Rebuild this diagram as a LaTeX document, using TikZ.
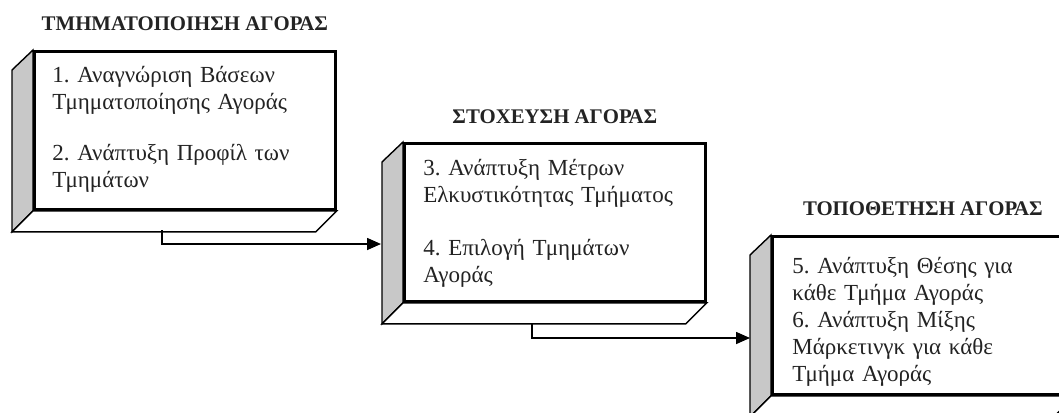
\documentclass[tikz,border=0pt]{standalone}
\usepackage{fontspec}
\setmainfont{Liberation Serif}
\usetikzlibrary{arrows.meta}
\pgfdeclarelayer{bg}
\pgfsetlayers{bg,main}
\frenchspacing
\definecolor{sidegray}{RGB}{200,200,200}
\definecolor{ink}{RGB}{35,35,35}
\tikzset{
  front/.style={draw, line width=1.4pt, fill=white, minimum width=150.5pt, minimum height=79pt, anchor=north west, inner sep=0pt},
  face/.style={draw, line width=0.7pt},
  body/.style={font=\frenchspacing\fontsize{11.5}{13.5}\selectfont, text=ink, text width=145pt, align=left, anchor=base west, inner sep=0pt},
  ttl/.style={font=\bfseries\fontsize{10.4}{12}\selectfont, text=ink, anchor=base, inner sep=0pt},
  conn/.style={line width=0.8pt, -{Triangle[length=7pt,width=6pt]}}
}
\newcommand\sidefaces[1]{%
  \begin{pgfonlayer}{bg}
    \filldraw[face, fill=sidegray] (#1.north west) -- ++(-21,20) -- ([shift={(-21,21)}]#1.south west) -- (#1.south west) -- cycle;
    \filldraw[face, fill=white] (#1.south west) -- ++(-21,21) -- ([shift={(-21,21)}]#1.south east) -- (#1.south east) -- cycle;
  \end{pgfonlayer}}
\begin{document}
\begin{tikzpicture}[x=0.5pt, y=-0.5pt]
\useasboundingbox (0,0) rectangle (1059,412);
\clip (0,0) rectangle (1059,412);
% box 1
\node[front] (f1) at (33,50) {};
\sidefaces{f1}
\node[ttl] (t1) at (f1.center |- 0,31) {ΤΜΗΜΑΤΟΠΟΙΗΣΗ ΑΓΟΡΑΣ};
\node[body] (x1) at (52,82) {1. Αναγνώριση Βάσεων\\Τμηματοποίησης Αγοράς\\[12pt]2. Ανάπτυξη Προφίλ των\\Τμημάτων};
% box 2
\node[front] (f2) at (403,142) {};
\sidefaces{f2}
\node[ttl] (t2) at (f2.center |- 0,123) {ΣΤΟΧΕΥΣΗ ΑΓΟΡΑΣ};
\node[body] (x2) at (423,175) {3. Ανάπτυξη Μέτρων\\Ελκυστικότητας Τμήματος\\[13pt]4. Επιλογή Τμημάτων\\Αγοράς};
% box 3
\node[front] (f3) at (771,235) {};
\sidefaces{f3}
\node[ttl] (t3) at (f3.center |- 0,215) {ΤΟΠΟΘΕΤΗΣΗ ΑΓΟΡΑΣ};
\node[body] (x3) at (792,273) {5. Ανάπτυξη Θέσης για\\κάθε Τμήμα Αγοράς\\6. Ανάπτυξη Μίξης\\Μάρκετινγκ για κάθε\\Τμήμα Αγοράς};
% connectors
\coordinate (s1) at (162,230);
\coordinate (e1) at (381,244);
\coordinate (s2) at (532,324);
\coordinate (e2) at (750,338);
\draw[conn] (s1) |- (e1);
\draw[conn] (s2) |- (e2);
\end{tikzpicture}
\end{document}
